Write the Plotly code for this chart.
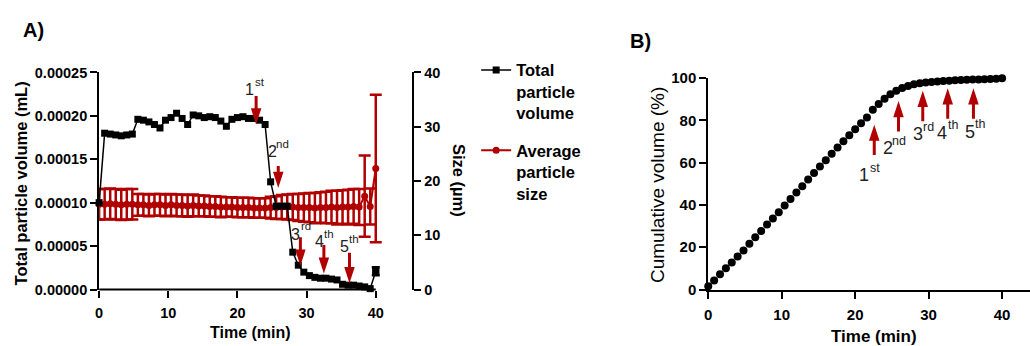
import plotly.graph_objects as go

W, H = 1030, 346
RED = "#b00000"
FONT = "Liberation Sans, Arial, sans-serif"

# sampling times (min)
time_min = [0.0, 0.8, 1.6, 2.4, 3.2, 4.0, 4.8, 5.6, 6.4, 7.2, 8.0, 8.8, 9.6,
            10.4, 11.2, 12.0, 12.8, 13.6, 14.4, 15.2, 16.0, 16.8, 17.6, 18.4,
            19.2, 20.0, 20.8, 21.6, 22.4, 23.2, 24.0, 24.8, 25.6, 26.4, 27.2,
            28.0, 28.8, 29.6, 30.4, 31.2, 32.0, 32.8, 33.6, 34.4, 35.2, 36.0,
            36.8, 37.6, 38.4, 39.2, 40.0]

# total particle volume (mL)
total_volume_ml = [0.000100, 0.000180, 0.000179, 0.000178, 0.000177, 0.000178,
                   0.000179, 0.000196, 0.000195, 0.000193, 0.000190, 0.000186,
                   0.000195, 0.000198, 0.000203, 0.000197, 0.000190, 0.000201,
                   0.000200, 0.000198, 0.000199, 0.000198, 0.000194, 0.000188,
                   0.000196, 0.000198, 0.000199, 0.000197, 0.000197, 0.000195,
                   0.000190, 0.000124, 0.000096, 0.000096, 0.000096, 0.000043,
                   0.000028, 0.000020, 0.000016, 0.000014, 0.000013, 0.000013,
                   0.000012, 0.000011, 0.000006, 0.000005, 0.000005, 0.000004,
                   0.000003, 0.000001, 0.000021]
last_volume_err_ml = 0.0000045

# average particle size (um), mean and SD
size_mean_um = [15.7, 15.7, 15.8, 15.7, 15.6, 15.7, 15.7, 15.6, 15.6, 15.5,
                15.6, 15.6, 15.5, 15.6, 15.5, 15.5, 15.4, 15.5, 15.4, 15.4,
                15.3, 15.3, 15.2, 15.2, 15.2, 15.1, 15.1, 15.1, 15.0, 15.0,
                15.0, 15.1, 15.1, 15.2, 15.2, 15.2, 15.1, 15.1, 15.1, 15.0,
                15.1, 15.1, 15.2, 15.1, 15.2, 15.2, 15.3, 15.2, 17.2, 15.3,
                22.3]
size_sd_um = [2.8, 2.8, 2.8, 2.8, 2.8, 2.8, 2.8, 2.0, 2.0, 2.0,
              2.0, 2.0, 2.0, 2.0, 2.0, 2.0, 2.0, 2.0, 1.9, 1.9,
              1.9, 1.9, 1.9, 1.8, 1.8, 1.8, 1.8, 1.8, 1.8, 1.8,
              1.8, 2.0, 2.1, 2.2, 2.3, 2.4, 2.5, 2.6, 2.7, 2.8,
              2.8, 2.9, 3.0, 3.1, 3.1, 3.2, 3.2, 3.3, 7.5, 3.3,
              13.6]

# cumulative volume (%)
cumulative_pct = [1.5, 4.3, 7.2, 10.0, 12.8, 15.6, 18.5, 21.6, 24.7, 27.7,
                  30.7, 33.6, 36.6, 39.7, 42.8, 45.9, 48.9, 52.0, 55.1, 58.2,
                  61.2, 64.2, 67.2, 70.1, 73.0, 75.8, 78.6, 81.4, 85.0, 87.8,
                  90.3, 92.4, 94.0, 95.3, 96.3, 97.1, 97.6, 97.9, 98.2, 98.4,
                  98.6, 98.8, 99.0, 99.1, 99.2, 99.3, 99.4, 99.5, 99.6, 99.7,
                  100.0]

# washing steps
step_digits = ["1", "2", "3", "4", "5"]
step_suffixes = ["st", "nd", "rd", "th", "th"]
step_time_a = [22.7, 25.9, 29.1, 32.5, 36.2]
step_tip_a = [0.000190, 0.000117, 0.0000274, 0.0000183, 0.0000073]
step_time_b = [22.6, 25.9, 29.2, 32.6, 36.1]
step_tip_b = [78.0, 89.2, 94.0, 95.2, 95.2]


def fx(p):
    return p / W


def fy(p):
    return 1 - p / H


BOLD = dict(family=FONT, color="black", weight="bold")

# pixel geometry of the two panels
A_TOP, A_BOT, B_TOP = 66.7, 295.0, 72.7
A_UNIT = 0.00025 / (A_BOT - A_TOP)   # mL per px
B_UNIT = 100.0 / (A_BOT - B_TOP)     # % per px
HEAD_PX = 8

fig = go.Figure()

fig.add_trace(go.Scatter(
    x=time_min, y=size_mean_um, xaxis="x", yaxis="y",
    name="Average<br>particle<br>size", legendgroup="size", legendrank=2,
    mode="lines+markers", cliponaxis=False,
    line=dict(color=RED, width=2),
    marker=dict(symbol="circle", size=7, color=RED),
    error_y=dict(type="data", array=size_sd_um, color=RED, thickness=2.5, width=6),
))

fig.add_trace(go.Scatter(
    x=time_min, y=total_volume_ml, xaxis="x", yaxis="y2",
    name="Total<br>particle<br>volume", legendgroup="vol", legendrank=1,
    mode="lines+markers", cliponaxis=False,
    line=dict(color="black", width=1.5),
    marker=dict(symbol="square", size=7, color="black"),
))

fig.add_trace(go.Scatter(
    x=[time_min[-1]], y=[total_volume_ml[-1]], xaxis="x", yaxis="y2",
    mode="markers", showlegend=False, cliponaxis=False,
    marker=dict(symbol="square", size=7, color="black"),
    error_y=dict(type="data", array=[last_volume_err_ml], color="black",
                 thickness=2.5, width=4),
))

fig.add_trace(go.Scatter(
    x=time_min, y=cumulative_pct, xaxis="x2", yaxis="y3",
    mode="markers", showlegend=False, cliponaxis=False,
    marker=dict(symbol="circle", size=8, color="black"),
))

# step arrows, panel A (pointing down)
arrow_len_a = [30, 23, 30, 30, 32]
sx, sy = [], []
for t, tip, ln in zip(step_time_a, step_tip_a, arrow_len_a):
    sx += [t, t, None]
    sy += [tip + ln * A_UNIT, tip + HEAD_PX * A_UNIT, None]
fig.add_trace(go.Scatter(x=sx, y=sy, xaxis="x", yaxis="y2", mode="lines",
                         showlegend=False, cliponaxis=False,
                         line=dict(color=RED, width=3)))
fig.add_trace(go.Scatter(x=step_time_a, y=step_tip_a, xaxis="x", yaxis="y2",
                         mode="markers", showlegend=False, cliponaxis=False,
                         marker=dict(symbol="arrow", angle=180, size=17,
                                     color=RED, line=dict(width=0))))

# step arrows, panel B (pointing up)
arrow_len_b = 32
sx, sy = [], []
for t, tip in zip(step_time_b, step_tip_b):
    sx += [t, t, None]
    sy += [tip - arrow_len_b * B_UNIT, tip - HEAD_PX * B_UNIT, None]
fig.add_trace(go.Scatter(x=sx, y=sy, xaxis="x2", yaxis="y3", mode="lines",
                         showlegend=False, cliponaxis=False,
                         line=dict(color=RED, width=3)))
fig.add_trace(go.Scatter(x=step_time_b, y=step_tip_b, xaxis="x2", yaxis="y3",
                         mode="markers", showlegend=False, cliponaxis=False,
                         marker=dict(symbol="arrow", angle=0, size=17,
                                     color=RED, line=dict(width=0))))

axis_common = dict(showgrid=False, zeroline=False, ticks="outside", ticklen=7,
                   tickwidth=2, tickcolor="black", linecolor="black",
                   linewidth=2, fixedrange=True)

fig.update_layout(
    width=W, height=H, autosize=False,
    margin=dict(l=0, r=0, t=0, b=0),
    paper_bgcolor="white", plot_bgcolor="white",
    font=dict(family=FONT, color="black"),
    xaxis=dict(domain=[fx(95.5), fx(410)], range=[0, 45.3], anchor="y",
               showline=False, tickvals=[0, 10, 20, 30, 40],
               ticklabelstandoff=3,
               tickfont=dict(size=14.5, **BOLD), **axis_common),
    yaxis=dict(domain=[fy(A_BOT), fy(A_TOP)], range=[0, 40], anchor="x",
               side="right", showline=True, tickvals=[0, 10, 20, 30, 40],
               tickfont=dict(size=14.5, **BOLD), **axis_common),
    yaxis2=dict(range=[0, 0.00025], overlaying="y", side="left", anchor="x",
                showline=True,
                tickvals=[0, 0.00005, 0.0001, 0.00015, 0.0002, 0.00025],
                tickformat=".5f", tickfont=dict(size=14.5, **BOLD), **axis_common),
    xaxis2=dict(domain=[fx(707), 1.0], range=[0, 43.8], anchor="y3",
                showline=True, tickvals=[0, 10, 20, 30, 40],
                ticklabelstandoff=3,
                tickfont=dict(size=15, **BOLD), **axis_common),
    yaxis3=dict(domain=[fy(A_BOT), fy(B_TOP)], range=[0, 100], anchor="x2",
                showline=True, tickvals=[0, 20, 40, 60, 80, 100],
                tickfont=dict(size=15, **BOLD), **axis_common),
    legend=dict(x=fx(474), y=fy(46), xanchor="left", yanchor="top",
                valign="top", traceorder="grouped", tracegroupgap=13,
                font=dict(size=16.5, **BOLD), bgcolor="rgba(0,0,0,0)"),
)

# bottom axis line of panel A ends at 40 min
fig.add_shape(type="line", xref="x", yref="y domain", x0=0, x1=40, y0=0, y1=0,
              line=dict(color="black", width=2))

ann = []
# titles
ann.append(dict(text="Total particle volume (mL)", x=fx(17.5), y=fy(183),
                textangle=-90, font=dict(size=16.5, **BOLD)))
ann.append(dict(text="Size (µm)", x=fx(457), y=fy(180), textangle=90,
                font=dict(size=16.5, **BOLD)))
ann.append(dict(text="Time (min)", x=fx(247), y=fy(340),
                font=dict(size=16, **BOLD)))
ann.append(dict(text="Time (min)", x=fx(873), y=fy(344),
                font=dict(size=17, **BOLD)))
ann.append(dict(text="Cumulative volume (%)", x=fx(656.7), y=fy(185),
                textangle=-90, font=dict(size=19, family=FONT, color="black")))
ann.append(dict(text="A)", x=fx(30), y=fy(22), font=dict(size=20, **BOLD)))
ann.append(dict(text="B)", x=fx(639), y=fy(34), font=dict(size=20, **BOLD)))

# step labels: ordinal number with raised suffix
digit_pos_a = [(246.7, 85), (270, 150), (292.7, 236.7), (316.7, 245), (341.7, 250)]
digit_pos_b = [(863.3, 175), (887.3, 146.7), (917.3, 131.7), (941.7, 130), (969.3, 129)]
LABEL_COLOR = "#222222"
for d, s, (lx, ly) in zip(step_digits, step_suffixes, digit_pos_a):
    ann.append(dict(text=d, x=fx(lx), y=fy(ly),
                    font=dict(size=16, family=FONT, color=LABEL_COLOR)))
    ann.append(dict(text=s, x=fx(lx + 10), y=fy(ly - 8),
                    font=dict(size=11.5, family=FONT, color=LABEL_COLOR)))
for d, s, (lx, ly) in zip(step_digits, step_suffixes, digit_pos_b):
    ann.append(dict(text=d, x=fx(lx), y=fy(ly),
                    font=dict(size=18, family=FONT, color=LABEL_COLOR)))
    ann.append(dict(text=s, x=fx(lx + 11), y=fy(ly - 8),
                    font=dict(size=12.5, family=FONT, color=LABEL_COLOR)))

for a in ann:
    a.update(xref="paper", yref="paper", xanchor="center", yanchor="middle",
             showarrow=False)

fig.update_layout(annotations=ann)

fig.write_html("out.html")
